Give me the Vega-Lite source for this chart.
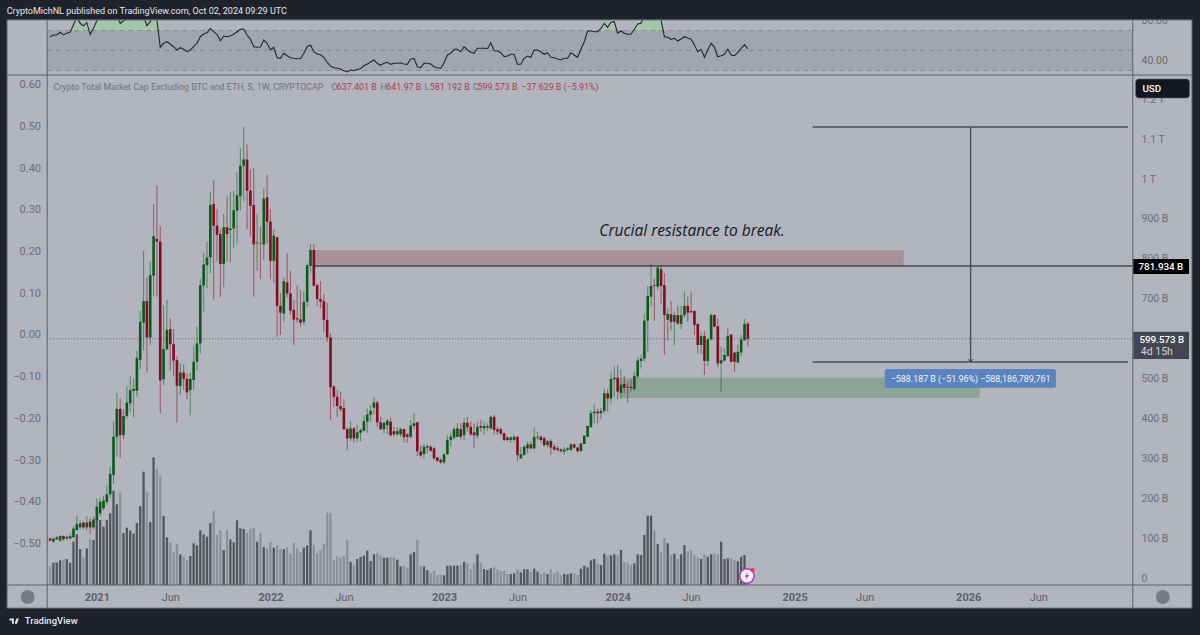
{
"$schema":"https://vega.github.io/schema/vega-lite/v6.json",
"width":1200,"height":635,"padding":0,"autosize":"none",
"background":"#1e222d",
"view":{"fill":"#b2b5be","stroke":null},
"datasets":{
"weeks":[
{"d":"2020-09-28","o":99,"h":101,"l":91,"c":94,"v":57,"r":63.8},
{"d":"2020-10-05","o":91,"h":99,"l":89,"c":99,"v":67,"r":65.5},
{"d":"2020-10-12","o":97,"h":105,"l":95,"c":102,"v":67,"r":65.5},
{"d":"2020-10-19","o":94,"h":108,"l":90,"c":105,"v":74,"r":68.2},
{"d":"2020-10-26","o":105,"h":107,"l":94,"c":97,"v":76,"r":65.8},
{"d":"2020-11-02","o":99,"h":107,"l":95,"c":103,"v":78,"r":67.2},
{"d":"2020-11-09","o":99,"h":112,"l":97,"c":105,"v":67,"r":68.2},
{"d":"2020-11-16","o":102,"h":130,"l":102,"c":124,"v":130,"r":75.5},
{"d":"2020-11-23","o":120,"h":156,"l":118,"c":135,"v":152,"r":83.2},
{"d":"2020-11-30","o":127,"h":145,"l":122,"c":137,"v":108,"r":77.2},
{"d":"2020-12-07","o":139,"h":141,"l":123,"c":127,"v":82,"r":74.5},
{"d":"2020-12-14","o":127,"h":155,"l":120,"c":139,"v":110,"r":77.8},
{"d":"2020-12-21","o":141,"h":150,"l":110,"c":127,"v":138,"r":66.2},
{"d":"2020-12-28","o":127,"h":155,"l":122,"c":147,"v":135,"r":72.2},
{"d":"2021-01-04","o":145,"h":200,"l":141,"c":179,"v":200,"r":79.8},
{"d":"2021-01-11","o":162,"h":201,"l":155,"c":191,"v":195,"r":84},
{"d":"2021-01-18","o":175,"h":206,"l":170,"c":194,"v":175,"r":86},
{"d":"2021-01-25","o":191,"h":233,"l":183,"c":210,"v":195,"r":85},
{"d":"2021-02-01","o":210,"h":279,"l":200,"c":261,"v":215,"r":86},
{"d":"2021-02-08","o":258,"h":392,"l":236,"c":354,"v":283,"r":88},
{"d":"2021-02-15","o":354,"h":463,"l":304,"c":424,"v":242,"r":85},
{"d":"2021-02-22","o":424,"h":449,"l":300,"c":358,"v":278,"r":77.2},
{"d":"2021-03-01","o":358,"h":424,"l":348,"c":406,"v":156,"r":79.8},
{"d":"2021-03-08","o":406,"h":481,"l":400,"c":440,"v":172,"r":81.2},
{"d":"2021-03-15","o":438,"h":506,"l":417,"c":471,"v":163,"r":85},
{"d":"2021-03-22","o":469,"h":500,"l":403,"c":474,"v":154,"r":87},
{"d":"2021-03-29","o":469,"h":569,"l":454,"c":552,"v":186,"r":86},
{"d":"2021-04-05","o":546,"h":670,"l":523,"c":642,"v":237,"r":88},
{"d":"2021-04-12","o":640,"h":820,"l":571,"c":694,"v":340,"r":84},
{"d":"2021-04-19","o":694,"h":755,"l":515,"c":603,"v":280,"r":74.8},
{"d":"2021-04-26","o":603,"h":793,"l":584,"c":759,"v":189,"r":78.8},
{"d":"2021-05-03","o":758,"h":937,"l":707,"c":857,"v":383,"r":83.8},
{"d":"2021-05-10","o":850,"h":983,"l":705,"c":843,"v":348,"r":80.5},
{"d":"2021-05-17","o":843,"h":882,"l":413,"c":495,"v":329,"r":53.2},
{"d":"2021-05-24","o":498,"h":683,"l":484,"c":574,"v":207,"r":57.2},
{"d":"2021-05-31","o":573,"h":697,"l":570,"c":622,"v":143,"r":58.8},
{"d":"2021-06-07","o":624,"h":651,"l":521,"c":586,"v":128,"r":56.5},
{"d":"2021-06-14","o":586,"h":624,"l":505,"c":545,"v":98,"r":53.8},
{"d":"2021-06-21","o":546,"h":555,"l":390,"c":482,"v":123,"r":50.5},
{"d":"2021-06-28","o":481,"h":538,"l":459,"c":515,"v":92,"r":52.8},
{"d":"2021-07-05","o":515,"h":536,"l":471,"c":499,"v":85,"r":51.2},
{"d":"2021-07-12","o":499,"h":513,"l":448,"c":465,"v":75,"r":48.8},
{"d":"2021-07-19","o":471,"h":515,"l":408,"c":499,"v":87,"r":50.5},
{"d":"2021-07-26","o":496,"h":582,"l":471,"c":542,"v":125,"r":53.8},
{"d":"2021-08-02","o":542,"h":630,"l":521,"c":588,"v":119,"r":57.2},
{"d":"2021-08-09","o":588,"h":750,"l":563,"c":734,"v":164,"r":63.8},
{"d":"2021-08-16","o":733,"h":815,"l":668,"c":786,"v":152,"r":66.5},
{"d":"2021-08-23","o":784,"h":843,"l":726,"c":803,"v":145,"r":67.8},
{"d":"2021-08-30","o":804,"h":968,"l":764,"c":935,"v":186,"r":72.2},
{"d":"2021-09-06","o":937,"h":997,"l":698,"c":883,"v":222,"r":68.8},
{"d":"2021-09-13","o":883,"h":926,"l":793,"c":860,"v":150,"r":66.2},
{"d":"2021-09-20","o":862,"h":874,"l":703,"c":787,"v":164,"r":59.8},
{"d":"2021-09-27","o":787,"h":912,"l":729,"c":879,"v":105,"r":64.5},
{"d":"2021-10-04","o":879,"h":957,"l":793,"c":862,"v":164,"r":63.8},
{"d":"2021-10-11","o":872,"h":967,"l":791,"c":876,"v":137,"r":64.5},
{"d":"2021-10-18","o":876,"h":970,"l":826,"c":922,"v":128,"r":66.2},
{"d":"2021-10-25","o":921,"h":1017,"l":839,"c":959,"v":194,"r":68.8},
{"d":"2021-11-01","o":957,"h":1077,"l":921,"c":1033,"v":170,"r":71.2},
{"d":"2021-11-08","o":1033,"h":1131,"l":943,"c":1049,"v":168,"r":71.5},
{"d":"2021-11-15","o":1049,"h":1087,"l":874,"c":971,"v":157,"r":65.5},
{"d":"2021-11-22","o":971,"h":1024,"l":855,"c":933,"v":168,"r":61.2},
{"d":"2021-11-29","o":935,"h":1027,"l":705,"c":836,"v":171,"r":53.8},
{"d":"2021-12-06","o":839,"h":912,"l":770,"c":841,"v":130,"r":53.2},
{"d":"2021-12-13","o":839,"h":881,"l":750,"c":838,"v":156,"r":53.5},
{"d":"2021-12-20","o":836,"h":977,"l":797,"c":951,"v":114,"r":60.5},
{"d":"2021-12-27","o":954,"h":1010,"l":837,"c":893,"v":109,"r":57.2},
{"d":"2022-01-03","o":893,"h":924,"l":749,"c":795,"v":129,"r":50.5},
{"d":"2022-01-10","o":795,"h":875,"l":740,"c":858,"v":112,"r":53.2},
{"d":"2022-01-17","o":854,"h":855,"l":605,"c":682,"v":118,"r":42.8},
{"d":"2022-01-24","o":682,"h":713,"l":609,"c":665,"v":108,"r":42.2},
{"d":"2022-01-31","o":663,"h":753,"l":642,"c":744,"v":108,"r":47.2},
{"d":"2022-02-07","o":741,"h":814,"l":703,"c":713,"v":114,"r":44.8},
{"d":"2022-02-14","o":713,"h":770,"l":660,"c":670,"v":94,"r":42.8},
{"d":"2022-02-21","o":672,"h":697,"l":584,"c":648,"v":126,"r":42.2},
{"d":"2022-02-28","o":651,"h":734,"l":640,"c":648,"v":110,"r":41.8},
{"d":"2022-03-07","o":648,"h":722,"l":630,"c":640,"v":99,"r":41.8},
{"d":"2022-03-14","o":642,"h":718,"l":634,"c":692,"v":112,"r":47.2},
{"d":"2022-03-21","o":692,"h":789,"l":680,"c":784,"v":119,"r":53.8},
{"d":"2022-03-28","o":782,"h":837,"l":765,"c":822,"v":164,"r":55.5},
{"d":"2022-04-04","o":822,"h":837,"l":730,"c":733,"v":120,"r":48.8},
{"d":"2022-04-11","o":734,"h":739,"l":680,"c":699,"v":96,"r":46.5},
{"d":"2022-04-18","o":699,"h":744,"l":676,"c":693,"v":105,"r":45.8},
{"d":"2022-04-25","o":694,"h":711,"l":617,"c":647,"v":124,"r":43.2},
{"d":"2022-05-02","o":647,"h":690,"l":592,"c":603,"v":217,"r":38.2},
{"d":"2022-05-09","o":603,"h":613,"l":396,"c":478,"v":215,"r":34.5},
{"d":"2022-05-16","o":480,"h":484,"l":429,"c":454,"v":76,"r":32.8},
{"d":"2022-05-23","o":454,"h":471,"l":403,"c":431,"v":85,"r":32.2},
{"d":"2022-05-30","o":431,"h":467,"l":417,"c":423,"v":82,"r":31.5},
{"d":"2022-06-06","o":426,"h":448,"l":371,"c":373,"v":87,"r":29.8},
{"d":"2022-06-13","o":373,"h":378,"l":321,"c":350,"v":135,"r":28.5},
{"d":"2022-06-20","o":350,"h":393,"l":343,"c":375,"v":70,"r":30.5},
{"d":"2022-06-27","o":375,"h":378,"l":339,"c":350,"v":60,"r":29.8},
{"d":"2022-07-04","o":350,"h":385,"l":342,"c":365,"v":78,"r":31.2},
{"d":"2022-07-11","o":364,"h":375,"l":342,"c":371,"v":84,"r":31.8},
{"d":"2022-07-18","o":369,"h":408,"l":367,"c":393,"v":88,"r":34.8},
{"d":"2022-07-25","o":392,"h":425,"l":364,"c":410,"v":103,"r":36.5},
{"d":"2022-08-01","o":409,"h":434,"l":392,"c":419,"v":72,"r":38.5},
{"d":"2022-08-08","o":427,"h":453,"l":409,"c":440,"v":92,"r":40.5},
{"d":"2022-08-15","o":440,"h":444,"l":379,"c":390,"v":96,"r":37.2},
{"d":"2022-08-22","o":390,"h":404,"l":371,"c":373,"v":89,"r":35.2},
{"d":"2022-08-29","o":373,"h":392,"l":363,"c":389,"v":82,"r":37.2},
{"d":"2022-09-05","o":383,"h":400,"l":360,"c":394,"v":82,"r":38.2},
{"d":"2022-09-12","o":392,"h":402,"l":354,"c":358,"v":83,"r":36.2},
{"d":"2022-09-19","o":368,"h":379,"l":354,"c":360,"v":83,"r":37.2},
{"d":"2022-09-26","o":360,"h":378,"l":358,"c":368,"v":76,"r":37.2},
{"d":"2022-10-03","o":360,"h":377,"l":354,"c":373,"v":56,"r":37.8},
{"d":"2022-10-10","o":373,"h":375,"l":339,"c":353,"v":58,"r":36.5},
{"d":"2022-10-17","o":360,"h":363,"l":339,"c":354,"v":52,"r":36.2},
{"d":"2022-10-24","o":354,"h":396,"l":350,"c":382,"v":92,"r":41.2},
{"d":"2022-10-31","o":381,"h":413,"l":373,"c":388,"v":99,"r":42.2},
{"d":"2022-11-07","o":390,"h":392,"l":306,"c":318,"v":135,"r":33.8},
{"d":"2022-11-14","o":317,"h":333,"l":304,"c":307,"v":58,"r":32.8},
{"d":"2022-11-21","o":311,"h":336,"l":298,"c":329,"v":56,"r":37.2},
{"d":"2022-11-28","o":327,"h":336,"l":312,"c":331,"v":45,"r":37.2},
{"d":"2022-12-05","o":329,"h":333,"l":317,"c":319,"v":37,"r":36.5},
{"d":"2022-12-12","o":325,"h":329,"l":296,"c":300,"v":43,"r":33.8},
{"d":"2022-12-19","o":302,"h":304,"l":290,"c":294,"v":30,"r":32.8},
{"d":"2022-12-26","o":296,"h":300,"l":286,"c":290,"v":30,"r":32.2},
{"d":"2023-01-02","o":290,"h":312,"l":286,"c":310,"v":29,"r":37.8},
{"d":"2023-01-09","o":310,"h":358,"l":308,"c":346,"v":58,"r":45.5},
{"d":"2023-01-16","o":346,"h":364,"l":329,"c":354,"v":58,"r":47.2},
{"d":"2023-01-23","o":352,"h":378,"l":348,"c":373,"v":58,"r":51.2},
{"d":"2023-01-30","o":354,"h":388,"l":353,"c":375,"v":58,"r":51.2},
{"d":"2023-02-06","o":373,"h":388,"l":348,"c":354,"v":60,"r":48.8},
{"d":"2023-02-13","o":358,"h":400,"l":346,"c":389,"v":69,"r":53.8},
{"d":"2023-02-20","o":389,"h":403,"l":367,"c":378,"v":65,"r":50.5},
{"d":"2023-02-27","o":379,"h":392,"l":356,"c":360,"v":47,"r":48.2},
{"d":"2023-03-06","o":365,"h":388,"l":325,"c":358,"v":65,"r":47.2},
{"d":"2023-03-13","o":357,"h":392,"l":350,"c":379,"v":92,"r":52.2},
{"d":"2023-03-20","o":381,"h":396,"l":367,"c":377,"v":67,"r":52.2},
{"d":"2023-03-27","o":375,"h":392,"l":360,"c":381,"v":48,"r":52.2},
{"d":"2023-04-03","o":377,"h":388,"l":369,"c":381,"v":45,"r":51.8},
{"d":"2023-04-10","o":375,"h":407,"l":373,"c":404,"v":50,"r":57.8},
{"d":"2023-04-17","o":404,"h":409,"l":361,"c":371,"v":53,"r":49.8},
{"d":"2023-04-24","o":373,"h":379,"l":360,"c":367,"v":47,"r":49.5},
{"d":"2023-05-01","o":373,"h":378,"l":358,"c":362,"v":42,"r":47.8},
{"d":"2023-05-08","o":363,"h":365,"l":343,"c":346,"v":42,"r":43.8},
{"d":"2023-05-15","o":352,"h":356,"l":342,"c":346,"v":33,"r":44.5},
{"d":"2023-05-22","o":346,"h":356,"l":338,"c":352,"v":33,"r":46.2},
{"d":"2023-05-29","o":346,"h":358,"l":342,"c":354,"v":35,"r":46.2},
{"d":"2023-06-05","o":354,"h":356,"l":293,"c":308,"v":47,"r":36.2},
{"d":"2023-06-12","o":300,"h":329,"l":298,"c":310,"v":38,"r":36.2},
{"d":"2023-06-19","o":308,"h":333,"l":307,"c":329,"v":47,"r":42.2},
{"d":"2023-06-26","o":325,"h":342,"l":312,"c":335,"v":47,"r":44.5},
{"d":"2023-07-03","o":335,"h":342,"l":322,"c":325,"v":40,"r":43.2},
{"d":"2023-07-10","o":325,"h":378,"l":322,"c":354,"v":49,"r":50.5},
{"d":"2023-07-17","o":352,"h":367,"l":346,"c":354,"v":40,"r":50.5},
{"d":"2023-07-24","o":354,"h":357,"l":340,"c":346,"v":33,"r":48.8},
{"d":"2023-07-31","o":350,"h":354,"l":329,"c":333,"v":38,"r":46.2},
{"d":"2023-08-07","o":333,"h":346,"l":327,"c":343,"v":33,"r":47.8},
{"d":"2023-08-14","o":343,"h":348,"l":308,"c":327,"v":47,"r":43.2},
{"d":"2023-08-21","o":329,"h":335,"l":319,"c":322,"v":35,"r":42.8},
{"d":"2023-08-28","o":325,"h":331,"l":317,"c":321,"v":40,"r":41.5},
{"d":"2023-09-04","o":322,"h":325,"l":314,"c":318,"v":30,"r":40.5},
{"d":"2023-09-11","o":317,"h":328,"l":308,"c":322,"v":33,"r":42.2},
{"d":"2023-09-18","o":321,"h":329,"l":318,"c":325,"v":32,"r":42.2},
{"d":"2023-09-25","o":321,"h":338,"l":318,"c":335,"v":35,"r":47.8},
{"d":"2023-10-02","o":335,"h":338,"l":325,"c":327,"v":35,"r":45.5},
{"d":"2023-10-09","o":327,"h":329,"l":314,"c":318,"v":30,"r":43.2},
{"d":"2023-10-16","o":318,"h":339,"l":317,"c":337,"v":49,"r":51.2},
{"d":"2023-10-23","o":336,"h":358,"l":335,"c":357,"v":58,"r":58.8},
{"d":"2023-10-30","o":354,"h":383,"l":353,"c":381,"v":53,"r":69.5},
{"d":"2023-11-06","o":378,"h":421,"l":377,"c":413,"v":74,"r":69.5},
{"d":"2023-11-13","o":413,"h":434,"l":388,"c":417,"v":78,"r":68.8},
{"d":"2023-11-20","o":417,"h":425,"l":388,"c":413,"v":63,"r":68.8},
{"d":"2023-11-27","o":413,"h":427,"l":398,"c":419,"v":60,"r":72.2},
{"d":"2023-12-04","o":419,"h":475,"l":413,"c":463,"v":94,"r":77.2},
{"d":"2023-12-11","o":463,"h":473,"l":417,"c":450,"v":87,"r":73.2},
{"d":"2023-12-18","o":450,"h":515,"l":434,"c":499,"v":89,"r":78.2},
{"d":"2023-12-25","o":498,"h":531,"l":454,"c":502,"v":92,"r":78.8},
{"d":"2024-01-01","o":502,"h":534,"l":448,"c":467,"v":90,"r":67.2},
{"d":"2024-01-08","o":464,"h":524,"l":450,"c":485,"v":105,"r":69.5},
{"d":"2024-01-15","o":486,"h":506,"l":463,"c":477,"v":69,"r":67.2},
{"d":"2024-01-22","o":479,"h":492,"l":439,"c":477,"v":67,"r":66.2},
{"d":"2024-01-29","o":479,"h":498,"l":467,"c":476,"v":62,"r":66.2},
{"d":"2024-02-05","o":473,"h":517,"l":471,"c":506,"v":65,"r":71.2},
{"d":"2024-02-12","o":505,"h":553,"l":500,"c":545,"v":92,"r":76.5},
{"d":"2024-02-19","o":544,"h":559,"l":525,"c":550,"v":90,"r":77.2},
{"d":"2024-02-26","o":550,"h":662,"l":542,"c":645,"v":150,"r":85.5},
{"d":"2024-03-04","o":645,"h":732,"l":567,"c":707,"v":208,"r":90},
{"d":"2024-03-11","o":705,"h":787,"l":680,"c":732,"v":208,"r":91},
{"d":"2024-03-18","o":734,"h":751,"l":645,"c":732,"v":163,"r":90},
{"d":"2024-03-25","o":730,"h":780,"l":722,"c":778,"v":123,"r":92},
{"d":"2024-04-01","o":774,"h":783,"l":688,"c":732,"v":100,"r":80.5},
{"d":"2024-04-08","o":734,"h":764,"l":559,"c":659,"v":141,"r":63.8},
{"d":"2024-04-15","o":647,"h":676,"l":595,"c":662,"v":125,"r":63.2},
{"d":"2024-04-22","o":661,"h":694,"l":621,"c":642,"v":90,"r":61.2},
{"d":"2024-04-29","o":642,"h":666,"l":584,"c":659,"v":94,"r":62.2},
{"d":"2024-05-06","o":659,"h":682,"l":634,"c":638,"v":78,"r":59.5},
{"d":"2024-05-13","o":637,"h":682,"l":623,"c":659,"v":92,"r":61.5},
{"d":"2024-05-20","o":659,"h":718,"l":653,"c":682,"v":120,"r":63.8},
{"d":"2024-05-27","o":682,"h":705,"l":642,"c":665,"v":100,"r":62.5},
{"d":"2024-06-03","o":669,"h":718,"l":663,"c":666,"v":105,"r":61.2},
{"d":"2024-06-10","o":669,"h":672,"l":609,"c":634,"v":89,"r":55.5},
{"d":"2024-06-17","o":637,"h":638,"l":563,"c":584,"v":83,"r":48.8},
{"d":"2024-06-24","o":584,"h":615,"l":561,"c":606,"v":78,"r":51.2},
{"d":"2024-07-01","o":606,"h":619,"l":509,"c":544,"v":92,"r":43.2},
{"d":"2024-07-08","o":544,"h":601,"l":531,"c":598,"v":85,"r":50.5},
{"d":"2024-07-15","o":598,"h":662,"l":596,"c":659,"v":92,"r":57.2},
{"d":"2024-07-22","o":659,"h":661,"l":628,"c":630,"v":94,"r":53.2},
{"d":"2024-07-29","o":631,"h":651,"l":528,"c":538,"v":92,"r":43.8},
{"d":"2024-08-05","o":538,"h":580,"l":466,"c":546,"v":130,"r":44.8},
{"d":"2024-08-12","o":545,"h":576,"l":542,"c":559,"v":78,"r":46.2},
{"d":"2024-08-19","o":556,"h":626,"l":555,"c":607,"v":80,"r":51.5},
{"d":"2024-08-26","o":610,"h":611,"l":540,"c":542,"v":80,"r":45.5},
{"d":"2024-09-02","o":565,"h":567,"l":517,"c":542,"v":75,"r":44.8},
{"d":"2024-09-09","o":540,"h":586,"l":540,"c":567,"v":71,"r":48.2},
{"d":"2024-09-16","o":565,"h":609,"l":555,"c":598,"v":85,"r":52.2},
{"d":"2024-09-23","o":596,"h":649,"l":595,"c":637,"v":90,"r":55.8},
{"d":"2024-09-30","o":637.401,"h":641.97,"l":581.192,"c":599.573,"v":45,"r":51.5}
]
},
"encoding":{
"x":{"field":"d","type":"temporal",
"scale":{"type":"utc","domain":["2020-06-15","2027-05-06"],"padding":0},
"axis":{"title":null,"grid":false,"domain":false,"ticks":false,"offset":-50,"labelPadding":6,"labelFontSize":11,"labelFont":"Roboto","labelOverlap":false,"labelFlush":false,"labelBound":false,
"values":["2021-01-04","2021-06-07","2022-01-03","2022-06-06","2023-01-02","2023-06-05","2024-01-01","2024-06-03","2025-01-06","2025-06-02","2026-01-05","2026-06-01"],
"labelExpr":"utcmonth(datum.value)==0 ? utcFormat(datum.value,'%Y') : 'Jun'",
"labelFontWeight":{"condition":{"test":"utcmonth(datum.value)==0","value":"bold"},"value":"normal"},
"labelColor":"#5d606b"}}
},
"layer":[
{"data":{"values":[{"d":"2020-09-28","r":50}]},"mark":{"type":"point","opacity":0},
"encoding":{"y":{"field":"r","type":"quantitative","scale":{"domain":[-534.5,100.5]},
"axis":{"title":null,"grid":false,"domain":false,"ticks":false,"orient":"right","offset":-67,"labelPadding":8,"values":[40,80],"format":".2f","labelColor":"#6a6d78","labelFontSize":10.5,"labelFont":"Roboto","labelOverlap":false,"labelFlush":false,"labelBound":false}}}},
{"data":{"values":[{"d":"2020-09-28","p":600}]},"mark":{"type":"point","opacity":0},
"encoding":{"y":{"field":"p","type":"quantitative","scale":{"domain":[-142.8,1448.6]},
"axis":{"title":null,"grid":false,"domain":false,"ticks":false,"orient":"right","offset":-67,"labelPadding":8,"values":[0,100,200,300,400,500,600,700,800,900,1000,1100,1200],
"labelExpr":"datum.value==0 ? '0' : datum.value<1000 ? datum.value+' B' : (datum.value/1000)+' T'","labelColor":"#6a6d78","labelFontSize":10.5,"labelFont":"Roboto","labelOverlap":false,"labelFlush":false,"labelBound":false}}}},
{"data":{"values":[{"d":"2020-09-28","pct":0}]},"mark":{"type":"point","opacity":0},
"encoding":{"y":{"field":"pct","type":"quantitative","scale":{"domain":[-0.7198,0.8037]},
"axis":{"title":null,"grid":false,"domain":false,"ticks":false,"orient":"left","offset":-47.5,"labelPadding":7,"values":[0.6,0.5,0.4,0.3,0.2,0.1,0,-0.1,-0.2,-0.3,-0.4,-0.5],"format":".2f","labelColor":"#6a6d78","labelFontSize":11,"labelFont":"Roboto","labelOverlap":false,"labelFlush":false,"labelBound":false}}}},
{"layer":[
{"data":{"values":[{"d":"2020-09-22","d2":"2026-12-16","r":70,"r2":30}]},"mark":{"type":"rect","color":"#a3a5ad"},
"encoding":{"x2":{"field":"d2"},"y":{"field":"r","type":"quantitative","scale":{"domain":[-534.5,100.5]},"axis":null},"y2":{"field":"r2"}}},
{"data":{"name":"weeks"},"transform":[{"filter":"datum.r > 70"}],"mark":{"type":"bar","color":"#a2c7a9","size":3.6},
"encoding":{"y":{"field":"r","type":"quantitative","scale":{"domain":[-534.5,100.5]},"axis":null},"y2":{"datum":70}}},
{"data":{"values":[{"d":"2020-09-22","d2":"2026-12-16","r":70},{"d":"2020-09-22","d2":"2026-12-16","r":50},{"d":"2020-09-22","d2":"2026-12-16","r":30}]},"mark":{"type":"rule","color":"#888a93","strokeDash":[5,4],"strokeWidth":1},
"encoding":{"x2":{"field":"d2"},"y":{"field":"r","type":"quantitative","scale":{"domain":[-534.5,100.5]},"axis":null}}},
{"data":{"name":"weeks"},"mark":{"type":"line","color":"#23252c","strokeWidth":1.1},
"encoding":{"y":{"field":"r","type":"quantitative","scale":{"domain":[-534.5,100.5]},"axis":null}}}
]},
{"data":{"name":"weeks"},"mark":{"type":"bar","size":2.3},
"encoding":{"y":{"field":"v","type":"quantitative","stack":null,"scale":{"domain":[-150,1755]},"axis":null},
"color":{"condition":{"test":"datum.c >= datum.o","value":"#54565c"},"value":"#8e9098"}}},
{"encoding":{"y":{"field":"p","type":"quantitative","scale":{"domain":[-142.8,1448.6]},"axis":null},
"y2":{"field":"p2"}},
"layer":[
{"data":{"values":[{"d":"2022-04-02","d2":"2025-08-23","p":822,"p2":781.9}]},"mark":{"type":"rect","color":"#a8929a"},"encoding":{"x2":{"field":"d2"}}},
{"data":{"values":[{"d":"2024-01-05","d2":"2026-01-29","p":502,"p2":451}]},"mark":{"type":"rect","color":"#8ea397"},"encoding":{"x2":{"field":"d2"}}},
{"data":{"values":[{"d":"2020-09-22","d2":"2026-12-16","p":599.573,"p2":599.573}]},"mark":{"type":"rule","color":"#5a5d68","strokeDash":[1,2],"strokeWidth":1},"encoding":{"x2":{"field":"d2"}}},
{"data":{"name":"weeks"},"mark":{"type":"rule","strokeWidth":1.1,"opacity":0.6},
"encoding":{"y":{"field":"l","type":"quantitative","scale":{"domain":[-142.8,1448.6]},"axis":null},"y2":{"field":"h"},
"color":{"condition":{"test":"datum.c >= datum.o","value":"#1f6a30"},"value":"#8e1f33"}}},
{"data":{"name":"weeks"},"mark":{"type":"bar","size":2.6},
"encoding":{"y":{"field":"o","type":"quantitative","scale":{"domain":[-142.8,1448.6]},"axis":null},"y2":{"field":"c"},
"color":{"condition":{"test":"datum.c >= datum.o","value":"#0a5a18"},"value":"#850c1e"}}},
{"data":{"values":[{"d":"2022-04-02","d2":"2026-12-16","p":781.934,"p2":781.934}]},"mark":{"type":"rule","color":"#131722","strokeWidth":1},"encoding":{"x2":{"field":"d2"}}},
{"data":{"values":[
{"d":"2025-02-13","d2":"2026-12-06","p":1130.2,"p2":1130.2},
{"d":"2025-02-13","d2":"2026-12-06","p":541.5,"p2":541.5},
{"d":"2026-01-10","d2":"2026-01-10","p":1130.2,"p2":541.5}]},
"mark":{"type":"rule","color":"#4a4d58","strokeWidth":1.4},"encoding":{"x2":{"field":"d2"}}},
{"data":{"values":[{"d":"2026-01-10","p":541.5}]},"mark":{"type":"point","shape":"M-1,-1.1L0,0L1,-1.1","filled":false,"color":"#3a3d47","size":26,"opacity":1,"strokeWidth":1},"encoding":{"y2":null}},
{"data":{"values":[{"d":"2025-07-14","d2":"2026-07-08","p":523.8,"p2":476.9}]},"mark":{"type":"rect","color":"#5a84bd","cornerRadius":2},"encoding":{"x2":{"field":"d2"}}},
{"data":{"values":[{"d":"2026-01-10","p":500,"t":"−588.187 B (−51.96%) −588,186,789,761"}]},"mark":{"type":"text","color":"#f0f3fa","font":"Roboto","fontSize":8.9,"align":"center","baseline":"middle"},"encoding":{"y2":null,"text":{"field":"t"}}},
{"data":{"values":[{"d":"2024-06-05","p":869.6,"t":"Crucial resistance to break."}]},"mark":{"type":"text","color":"#131722","font":"Open Sans","fontStyle":"italic","fontSize":15.5,"align":"center","baseline":"middle"},"encoding":{"y2":null,"text":{"field":"t"}}},
{"data":{"values":[
{"d":"2020-10-05","p":1230.4,"t":"Crypto Total Market Cap Excluding BTC and ETH, S, 1W, CRYPTOCAP"},
{"d":"2022-05-11","p":1230.4,"t":"O"},{"d":"2022-08-22","p":1230.4,"t":"H"},{"d":"2022-11-22","p":1230.4,"t":"L"},{"d":"2023-03-03","p":1230.4,"t":"C"}]},
"mark":{"type":"text","color":"#6f727d","font":"Roboto","fontSize":8.9,"align":"left","baseline":"middle"},"encoding":{"y2":null,"text":{"field":"t"}}},
{"data":{"values":[
{"d":"2022-05-22","p":1230.4,"t":"637.401 B"},{"d":"2022-09-03","p":1230.4,"t":"641.97 B"},{"d":"2022-12-03","p":1230.4,"t":"581.192 B"},{"d":"2023-03-13","p":1230.4,"t":"599.573 B"},{"d":"2023-06-13","p":1230.4,"t":"−37.629 B (−5.91%)"}]},
"mark":{"type":"text","color":"#a3404f","font":"Roboto","fontSize":8.9,"align":"left","baseline":"middle"},"encoding":{"y2":null,"text":{"field":"t"}}},
{"data":{"values":[{"d":"2026-12-22","d2":"2027-04-14","p":1250.5,"p2":1202.9}]},"mark":{"type":"rect","color":"#131722","cornerRadius":3,"stroke":"#5d606b","strokeWidth":0.5},"encoding":{"x2":{"field":"d2"}}},
{"data":{"values":[{"d":"2026-12-17","d2":"2027-04-13","p":799.4,"p2":761.8}]},"mark":{"type":"rect","color":"#000000"},"encoding":{"x2":{"field":"d2"}}},
{"data":{"values":[{"d":"2026-12-17","d2":"2027-04-13","p":617.2,"p2":548.8}]},"mark":{"type":"rect","color":"#434651"},"encoding":{"x2":{"field":"d2"}}},
{"data":{"values":[{"d":"2027-01-25","p":1226,"t":"USD"},{"d":"2027-02-13","p":780.5,"t":"781.934 B"},{"d":"2027-02-15","p":597,"t":"599.573 B"}]},
"mark":{"type":"text","color":"#ffffff","font":"Roboto","fontSize":9.8,"fontWeight":500,"align":"center","baseline":"middle"},"encoding":{"y2":null,"text":{"field":"t"}}},
{"data":{"values":[{"d":"2027-01-02","p":566,"t":"4d 15h"}]},"mark":{"type":"text","color":"#d1d4dc","font":"Roboto","fontSize":10.5,"align":"left","baseline":"middle"},"encoding":{"y2":null,"text":{"field":"t"}}},
{"data":{"values":[{"d":"2024-09-28","p":5}]},"mark":{"type":"point","shape":"circle","filled":true,"fill":"#f4f0f6","stroke":"#b23bc9","strokeWidth":1.5,"size":210,"opacity":1},"encoding":{"y2":null}},
{"data":{"values":[{"d":"2024-09-28","p":5}]},"mark":{"type":"point","shape":"M0.3,-1L-0.5,0.2L0,0.2L-0.3,1L0.5,-0.2L0,-0.2Z","filled":true,"color":"#8a2aa6","size":64,"opacity":1},"encoding":{"y2":null}},
{"data":{"values":[{"d":"2024-10-10","p":20}]},"mark":{"type":"point","shape":"circle","filled":true,"color":"#f23645","size":16,"opacity":1},"encoding":{"y2":null}},
{"data":{"values":[{"d":"2020-08-12","p":-47.6},{"d":"2027-02-17","p":-47.6}]},"mark":{"type":"point","shape":"circle","filled":true,"color":"#787b86","size":196,"opacity":1},"encoding":{"y2":null}},
{"data":{"values":[
{"d":"2020-09-22","d2":"2020-09-22","p":1398.5,"p2":-75.2},
{"d":"2026-12-16","d2":"2026-12-16","p":1398.5,"p2":-75.2},
{"d":"2020-06-30","d2":"2027-04-19","p":1260.6,"p2":1260.6},
{"d":"2020-06-30","d2":"2027-04-19","p":-17.5,"p2":-17.5}]},
"mark":{"type":"rule","color":"#5d606b","strokeWidth":1},"encoding":{"x2":{"field":"d2"}}},
{"data":{"values":[
{"d":"2020-06-15","d2":"2027-05-06","p":1448.6,"p2":1398.5},
{"d":"2020-06-15","d2":"2027-05-06","p":-75.2,"p2":-142.8},
{"d":"2020-06-15","d2":"2020-06-30","p":1448.6,"p2":-142.8},
{"d":"2027-04-19","d2":"2027-05-06","p":1448.6,"p2":-142.8}]},
"mark":{"type":"rect","color":"#1e222d"},"encoding":{"x2":{"field":"d2"}}},
{"data":{"values":[
{"d":"2020-06-30","d2":"2027-04-19","p":1398.5,"p2":1398.5},
{"d":"2020-06-30","d2":"2027-04-19","p":-75.2,"p2":-75.2},
{"d":"2020-06-30","d2":"2020-06-30","p":1398.5,"p2":-75.2},
{"d":"2027-04-19","d2":"2027-04-19","p":1398.5,"p2":-75.2}]},
"mark":{"type":"rule","color":"#787b86","strokeWidth":1},"encoding":{"x2":{"field":"d2"}}},
{"data":{"values":[{"d":"2020-06-29","p":1420.6,"t":"CryptoMichNL published on TradingView.com, Oct 02, 2024 09:29 UTC"}]},"mark":{"type":"text","color":"#e6e8ee","font":"Roboto","fontSize":9,"align":"left","baseline":"middle"},"encoding":{"y2":null,"text":{"field":"t"}}},
{"data":{"values":[{"d":"2020-08-06","p":-107.8,"t":"TradingView"}]},"mark":{"type":"text","color":"#e6e8ee","font":"Roboto","fontSize":9.5,"fontWeight":500,"align":"left","baseline":"middle"},"encoding":{"y2":null,"text":{"field":"t"}}},
{"data":{"values":[{"d":"2020-07-15","p":-107.8}]},"mark":{"type":"point","shape":"M-1,-0.55H-0.1V0.55H-0.5V-0.1H-1ZM0.05,0.55L0.45,-0.55H0.95L0.55,0.55Z","filled":true,"color":"#e6e8ee","size":90,"opacity":1},"encoding":{"y2":null}}
]}
],
"resolve":{"scale":{"y":"independent"},"axis":{"y":"independent"}}
}
